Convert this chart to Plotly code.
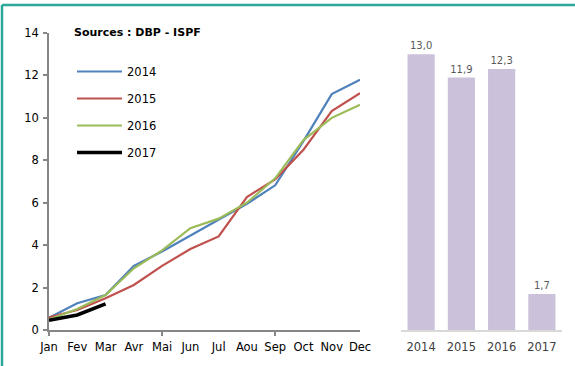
import plotly.graph_objects as go

# Monthly cumulative values per year
months = ["Jan", "Fev", "Mar", "Avr", "Mai", "Jun", "Jul", "Aou", "Sep", "Oct", "Nov", "Dec"]
v2014 = [0.58, 1.26, 1.65, 3.02, 3.70, 4.45, 5.22, 5.95, 6.82, 8.90, 11.12, 11.80]
v2015 = [0.60, 0.94, 1.50, 2.12, 3.02, 3.82, 4.41, 6.27, 7.10, 8.50, 10.32, 11.16]
v2016 = [0.50, 0.99, 1.65, 2.91, 3.75, 4.80, 5.25, 6.00, 7.15, 8.95, 10.00, 10.62]
v2017 = [0.46, 0.71, 1.23]

# Annual totals
years = ["2014", "2015", "2016", "2017"]
totals = [13.0, 11.9, 12.3, 1.7]

W, H = 575, 366
FONT = "DejaVu Sans"

def px_x(p):
    return p / W

def px_y(p):
    return (H - p) / H

fig = go.Figure()

series = [
    ("2014", v2014, "#4F81BD", 2.2),
    ("2015", v2015, "#C0504D", 2.2),
    ("2016", v2016, "#9BBB59", 2.2),
    ("2017", v2017, "#000000", 3.6),
]
for name, vals, color, w in series:
    fig.add_trace(go.Scatter(
        x=list(range(len(vals))), y=vals, mode="lines", name=name,
        line=dict(color=color, width=w), legendgroup=name,
        xaxis="x", yaxis="y",
    ))

fig.add_trace(go.Bar(
    x=years, y=totals, marker=dict(color="#CCC1DA", line=dict(width=0)),
    text=totals, texttemplate="%{y:.1f}", textposition="outside",
    textfont=dict(family=FONT, size=10, color="#595959"),
    cliponaxis=False, showlegend=False, xaxis="x2", yaxis="y2",
))

y_dom = [px_y(330), px_y(33)]

fig.update_layout(
    width=W, height=H,
    margin=dict(l=0, r=0, t=0, b=0, autoexpand=False),
    paper_bgcolor="white", plot_bgcolor="white",
    separators=", ",
    font=dict(family=FONT, size=11, color="#000000"),
    bargap=0.325,
    xaxis=dict(
        domain=[px_x(49), px_x(360)], range=[0, 11], automargin=False,
        tickvals=list(range(12)), ticktext=months,
        ticks="", showgrid=False, zeroline=False, ticklabelstandoff=5,
        showline=True, linecolor="#868686", linewidth=1.5,
        tickfont=dict(family=FONT, size=11.5, color="#000000"),
        minor=dict(tickvals=[0, 4, 8], ticks="outside", ticklen=4,
                   tickcolor="#868686", tickwidth=1.5, showgrid=False),
    ),
    yaxis=dict(
        domain=y_dom, range=[0, 14], dtick=2, automargin=False,
        ticks="outside", ticklen=4, tickcolor="#868686", tickwidth=1.5,
        showgrid=False, zeroline=False, ticklabelstandoff=2,
        showline=True, linecolor="#868686", linewidth=1.5,
        tickfont=dict(family=FONT, size=11.5, color="#000000"),
    ),
    xaxis2=dict(
        domain=[px_x(401), px_x(562)], anchor="y2", automargin=False,
        showgrid=False, zeroline=False, ticks="", ticklabelstandoff=5,
        showline=True, linecolor="#D9D9D9", linewidth=1.5,
        tickfont=dict(family=FONT, size=11.5, color="#404040"),
    ),
    yaxis2=dict(
        domain=y_dom, range=[0, 14], anchor="x2", automargin=False,
        visible=False, showgrid=False, zeroline=False,
    ),
    legend=dict(
        x=px_x(72), y=px_y(57), xanchor="left", yanchor="top",
        bgcolor="rgba(0,0,0,0)", font=dict(family=FONT, size=11.5),
        tracegroupgap=8, itemwidth=45,
    ),
    showlegend=True,
    annotations=[dict(
        text="<b>Sources : DBP - ISPF</b>", x=px_x(72), y=px_y(33),
        xref="paper", yref="paper", xanchor="left", yanchor="middle",
        showarrow=False, font=dict(family=FONT, size=11, color="#000000"),
    )],
    shapes=[
        dict(type="line", xref="paper", yref="paper",
             x0=px_x(2), x1=1, y0=px_y(5), y1=px_y(5),
             line=dict(color="#2BA89B", width=2.5)),
        dict(type="line", xref="paper", yref="paper",
             x0=px_x(2), x1=px_x(2), y0=0, y1=px_y(5),
             line=dict(color="#2BA89B", width=2.5)),
    ],
)

fig.write_html("out.html")
